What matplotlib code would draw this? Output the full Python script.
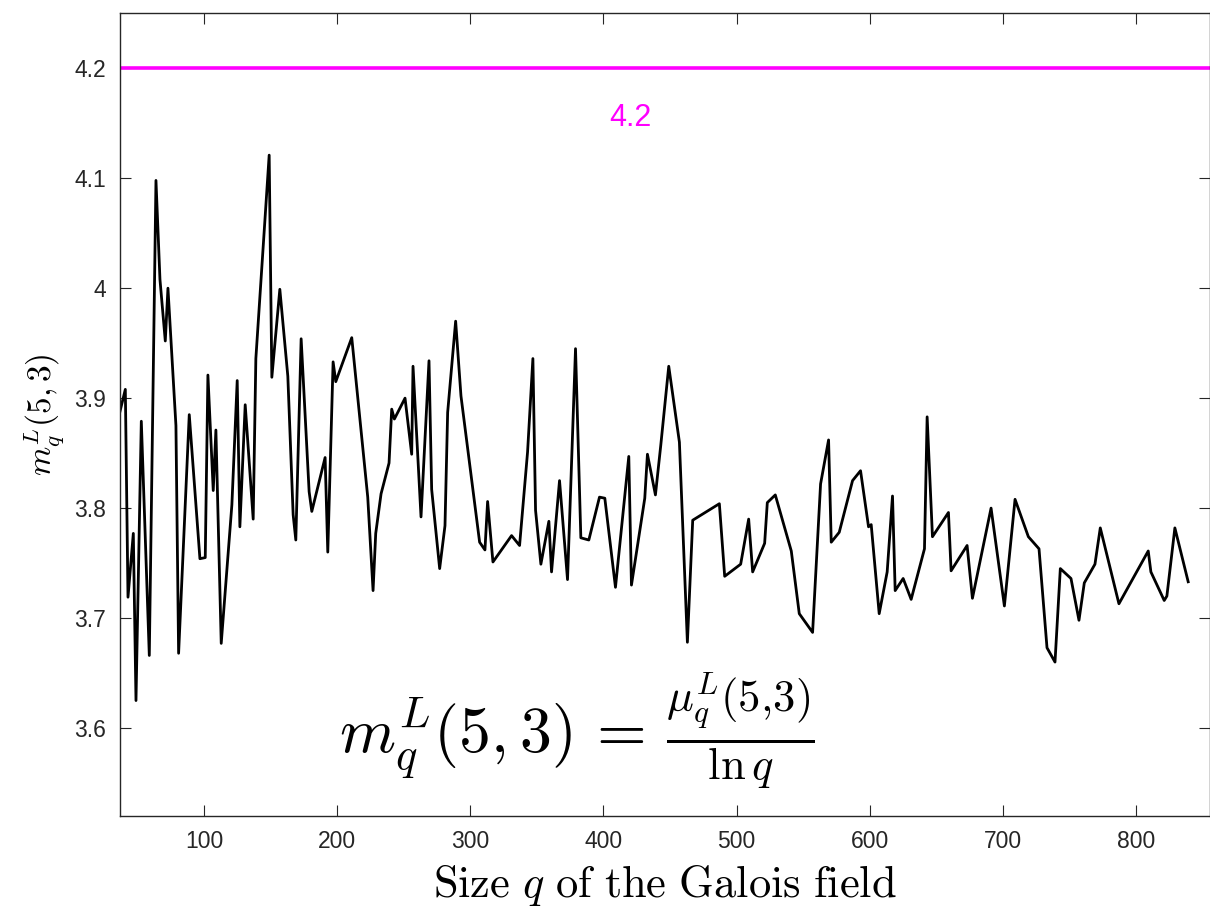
import matplotlib
matplotlib.use("Agg")
import matplotlib.pyplot as plt

plt.rcParams['mathtext.fontset'] = 'cm'
plt.rcParams['font.family'] = ['Liberation Sans', 'DejaVu Sans']

# taille q du corps et valeur m_q^L(5,3)
q = [37, 41, 43, 47, 49, 53, 59, 64, 67, 71, 73, 79, 81, 89, 97, 101, 103, 107, 109, 113,
     121, 125, 127, 131, 137, 139, 149, 151, 157, 163, 167, 169, 173, 179, 181, 191, 193, 197, 199, 211,
     223, 227, 229, 233, 239, 241, 243, 251, 256, 257, 263, 269, 271, 277, 281, 283, 289, 293, 307, 311,
     313, 317, 331, 337, 343, 347, 349, 353, 359, 361, 367, 373, 379, 383, 389, 397, 401, 409, 419, 421,
     431, 433, 439, 443, 449, 457, 463, 467, 487, 491, 503, 509, 512, 521, 523, 529, 541, 547, 557, 563,
     569, 571, 577, 587, 593, 599, 601, 607, 613, 617, 619, 625, 631, 641, 643, 647, 659, 661, 673, 677,
     691, 701, 709, 719, 727, 733, 739, 743, 751, 757, 761, 769, 773, 787, 809, 811, 821, 823, 829, 839]
m = [3.888, 3.908, 3.719, 3.777, 3.625, 3.879, 3.666, 4.098, 4.008, 3.952, 4.000, 3.875, 3.668, 3.885, 3.754, 3.755, 3.921, 3.816, 3.871, 3.677,
     3.803, 3.916, 3.783, 3.894, 3.790, 3.936, 4.121, 3.919, 3.999, 3.920, 3.794, 3.771, 3.954, 3.815, 3.797, 3.846, 3.760, 3.933, 3.915, 3.955,
     3.810, 3.725, 3.777, 3.813, 3.841, 3.890, 3.881, 3.900, 3.849, 3.929, 3.792, 3.934, 3.817, 3.745, 3.784, 3.887, 3.970, 3.902, 3.769, 3.762,
     3.806, 3.751, 3.775, 3.766, 3.851, 3.936, 3.798, 3.749, 3.788, 3.742, 3.825, 3.735, 3.945, 3.773, 3.771, 3.810, 3.809, 3.728, 3.847, 3.730,
     3.809, 3.849, 3.812, 3.857, 3.929, 3.860, 3.678, 3.789, 3.804, 3.738, 3.749, 3.790, 3.742, 3.768, 3.805, 3.812, 3.761, 3.704, 3.687, 3.822,
     3.862, 3.769, 3.778, 3.825, 3.834, 3.783, 3.785, 3.704, 3.742, 3.811, 3.725, 3.736, 3.717, 3.763, 3.883, 3.774, 3.796, 3.743, 3.766, 3.718,
     3.800, 3.711, 3.808, 3.774, 3.763, 3.673, 3.660, 3.745, 3.736, 3.698, 3.732, 3.749, 3.782, 3.713, 3.761, 3.742, 3.716, 3.720, 3.782, 3.733]

borne = 4.2
xticks = [100, 200, 300, 400, 500, 600, 700, 800]
yticks = [3.6, 3.7, 3.8, 3.9, 4.0, 4.1, 4.2]
ylabels = ["3.6", "3.7", "3.8", "3.9", "4", "4.1", "4.2"]

fig = plt.figure(figsize=(12.1, 9.09), dpi=100)
ax = fig.add_axes([120/1210, 93/909, 1089.5/1210, 802.7/909])

ax.plot(q, m, color='black', lw=2.0)
ax.axhline(borne, color='#ff00ff', lw=2.6)
ax.text(420, 4.155, "4.2", color='#ff00ff', fontsize=22, ha='center', va='center')
ax.text(380, 3.597, r"$m_q^L(5,3)\,=\,\frac{\mu_q^L(5{,}3)}{\ln q}$", fontsize=46, ha='center', va='center')

ax.set_xlim(37, 855)
ax.set_ylim(3.52, 4.25)
ax.set_xticks(xticks)
ax.set_yticks(yticks)
ax.set_yticklabels(ylabels)
ax.tick_params(direction='in', length=8, width=0.8, top=True, right=True, labelsize=16.5,
               colors='#262626', pad=10)
for s in ax.spines.values():
    s.set_color('#262626')
    s.set_linewidth(1.0)

ax.set_xlabel(r"$\mathrm{Size}\ q\ \mathrm{of\ the\ Galois\ field}$", fontsize=32, labelpad=7)
ax.set_ylabel(r"$m_q^L(5,3)$", fontsize=24, labelpad=6)

plt.savefig("out.png", dpi=100)
